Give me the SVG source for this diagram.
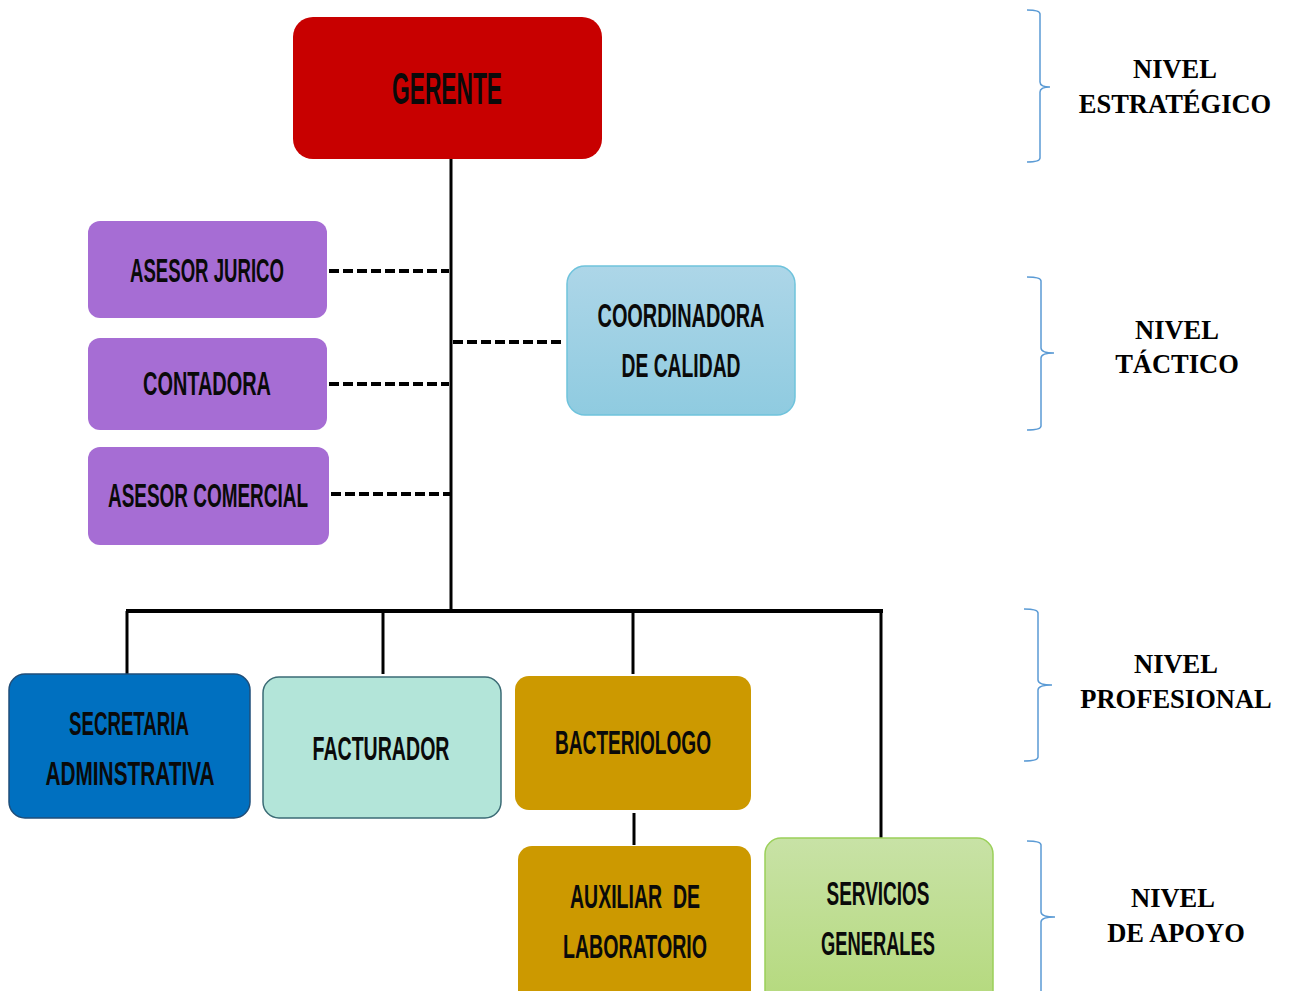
<svg xmlns="http://www.w3.org/2000/svg" width="1292" height="991" viewBox="0 0 1292 991">
<defs>
<linearGradient id="gBlue" x1="0" y1="0" x2="0" y2="1"><stop offset="0" stop-color="#ADD6E8"/><stop offset="1" stop-color="#8FCBE0"/></linearGradient>
<linearGradient id="gGreen" x1="0" y1="0" x2="0" y2="1"><stop offset="0" stop-color="#C8E2A6"/><stop offset="1" stop-color="#B4D97C"/></linearGradient>
<style>
.t{font-family:"Liberation Sans",Arial,sans-serif;font-size:33px;font-weight:bold;fill:#0a0a0a;text-anchor:middle}
.g{font-size:44px}
.lv{font-family:"Liberation Serif","Times New Roman",serif;font-size:26.5px;font-weight:bold;fill:#000;text-anchor:middle}
.solid{stroke:#000;stroke-width:3;fill:none}
.dash{stroke:#000;stroke-width:4;fill:none;stroke-dasharray:10 4}
.brace{stroke:#5B9BD5;stroke-width:1.5;fill:none}
.purple{fill:#A66DD4}
</style>
</defs>
<rect width="1292" height="991" fill="#fff"/>
<g id="connectors">
<line class="solid" x1="451" y1="159" x2="451" y2="611"/>
<line class="solid" x1="126" y1="611" x2="883" y2="611" style="stroke-width:4"/>
<line class="solid" x1="127" y1="611" x2="127" y2="677"/>
<line class="solid" x1="383" y1="611" x2="383" y2="674"/>
<line class="solid" x1="633" y1="611" x2="633" y2="674"/>
<line class="solid" x1="881" y1="611" x2="881" y2="838"/>
<line class="solid" x1="634" y1="813" x2="634" y2="845"/>
<line class="dash" x1="329" y1="271" x2="449" y2="271"/>
<line class="dash" x1="329" y1="384" x2="449" y2="384"/>
<line class="dash" x1="331" y1="494" x2="451" y2="494"/>
<line class="dash" x1="453" y1="342" x2="565" y2="342"/>
</g>
<g id="gerente"><rect x="293" y="17" width="309" height="142" rx="20" fill="#C80000"/><text class="t g" x="447" y="104" textLength="110" lengthAdjust="spacingAndGlyphs">GERENTE</text></g>
<g id="asesor-jurico"><rect class="purple" x="88" y="221" width="239" height="97" rx="12"/><text class="t" x="207" y="282" textLength="154" lengthAdjust="spacingAndGlyphs">ASESOR JURICO</text></g>
<g id="contadora"><rect class="purple" x="88" y="338" width="239" height="92" rx="12"/><text class="t" x="207" y="395" textLength="128" lengthAdjust="spacingAndGlyphs">CONTADORA</text></g>
<g id="asesor-comercial"><rect class="purple" x="88" y="447" width="241" height="98" rx="12"/><text class="t" x="208" y="507" textLength="200" lengthAdjust="spacingAndGlyphs">ASESOR COMERCIAL</text></g>
<g id="coordinadora"><rect x="567" y="266" width="228" height="149" rx="18" fill="url(#gBlue)" stroke="#6FC3DC" stroke-width="1.5"/><text class="t" x="681" y="327" textLength="167" lengthAdjust="spacingAndGlyphs">COORDINADORA</text><text class="t" x="681" y="377" textLength="119" lengthAdjust="spacingAndGlyphs">DE CALIDAD</text></g>
<g id="secretaria"><rect x="9" y="674" width="241" height="144" rx="16" fill="#0070C0" stroke="#1F4E79" stroke-width="1.5"/><text class="t" x="129" y="735" textLength="120" lengthAdjust="spacingAndGlyphs">SECRETARIA</text><text class="t" x="130" y="785" textLength="169" lengthAdjust="spacingAndGlyphs">ADMINSTRATIVA</text></g>
<g id="facturador"><rect x="263" y="677" width="238" height="141" rx="16" fill="#B3E5D9" stroke="#3B6B75" stroke-width="1.5"/><text class="t" x="381" y="760" textLength="137" lengthAdjust="spacingAndGlyphs">FACTURADOR</text></g>
<g id="bacteriologo"><rect x="515" y="676" width="236" height="134" rx="14" fill="#CC9900"/><text class="t" x="633" y="754" textLength="156" lengthAdjust="spacingAndGlyphs">BACTERIOLOGO</text></g>
<g id="auxiliar"><rect x="518" y="846" width="233" height="160" rx="14" fill="#CC9900"/><text class="t" x="635" y="908" textLength="130" lengthAdjust="spacingAndGlyphs" xml:space="preserve">AUXILIAR  DE</text><text class="t" x="635" y="958" textLength="144" lengthAdjust="spacingAndGlyphs">LABORATORIO</text></g>
<g id="servicios"><rect x="765" y="838" width="228" height="170" rx="16" fill="url(#gGreen)" stroke="#9BD05A" stroke-width="1.5"/><text class="t" x="878" y="905" textLength="103" lengthAdjust="spacingAndGlyphs">SERVICIOS</text><text class="t" x="878" y="955" textLength="114" lengthAdjust="spacingAndGlyphs">GENERALES</text></g>
<g id="nivel-estrategico"><path class="brace" d="M1027 10 Q1040 10 1040 14 L1040 82 Q1040 87 1050 87 Q1040 87 1040 92 L1040 158 Q1040 162 1027 162"/><text class="lv" x="1175" y="78">NIVEL</text><text class="lv" x="1175" y="113">ESTRATÉGICO</text></g>
<g id="nivel-tactico"><path class="brace" d="M1027 277 Q1041 277 1041 281 L1041 348 Q1041 353 1054 353 Q1041 353 1041 358 L1041 426 Q1041 430 1027 430"/><text class="lv" x="1177" y="339">NIVEL</text><text class="lv" x="1177" y="373">TÁCTICO</text></g>
<g id="nivel-profesional"><path class="brace" d="M1024 609 Q1038 609 1038 613 L1038 680 Q1038 685 1052 685 Q1038 685 1038 690 L1038 757 Q1038 761 1024 761"/><text class="lv" x="1176" y="673">NIVEL</text><text class="lv" x="1176" y="708">PROFESIONAL</text></g>
<g id="nivel-apoyo"><path class="brace" d="M1027 841 Q1041 841 1041 845 L1041 912 Q1041 917 1055 917 Q1041 917 1041 922 L1041 995"/><text class="lv" x="1173" y="907">NIVEL</text><text class="lv" x="1176" y="942">DE APOYO</text></g>
</svg>
